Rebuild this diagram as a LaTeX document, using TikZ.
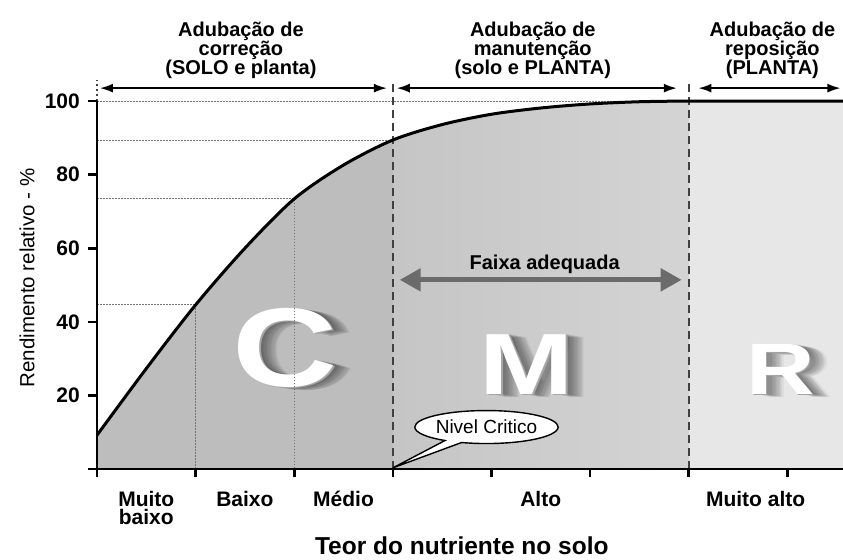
\documentclass[tikz,border=0pt]{standalone}
\usepackage{fontspec}
\setmainfont{Liberation Sans}
\usetikzlibrary{arrows.meta,shapes.callouts}

\definecolor{zonaC}{HTML}{BDBDBD}
\definecolor{zonaMa}{HTML}{C5C5C5}
\definecolor{zonaMb}{HTML}{D4D4D4}
\definecolor{zonaR}{HTML}{E7E7E7}
\definecolor{faixacor}{HTML}{6B6B6B}

\begin{document}
\begin{tikzpicture}[x=98.6pt,y=3.68pt,
	eixo/.style={line width=2.6pt},
	guia/.style={black!55, line width=0.8pt, dash pattern=on 1.5pt off 1.5pt},
	limite/.style={black!75, line width=2.2pt, dash pattern=on 8pt off 5pt},
	faixaseta/.style={faixacor, line width=5pt, {Triangle[length=21pt,width=22pt]}-{Triangle[length=21pt,width=22pt]}},
	chave/.style={line width=1.8pt, {Latex[length=13pt,width=9pt]}-{Latex[length=13pt,width=9pt]}},
	cabec/.style={font=\bfseries\fontsize{20}{19}\selectfont, align=center, anchor=base, inner sep=0pt},
	classe/.style={font=\bfseries\fontsize{21}{18}\selectfont, align=center, anchor=base, inner sep=0pt},
	eixonum/.style={font=\bfseries\fontsize{21}{21}\selectfont, anchor=east, inner sep=0pt},
	letra/.style={font=\bfseries\fontsize{#1}{#1}\selectfont, inner sep=0pt, xscale=1.3},
]
	\useasboundingbox (-0.984,-24.46) rectangle (7.566,127.45);

	% zonas sob a curva
	\begin{scope}
		\clip (0,0) -- plot[smooth] coordinates {(0,9.2) (0.5,27.3) (1,44.6) (1.5,60.0) (2,73.4) (2.5,82.6) (3,89.4) (3.5,93.6) (4,96.4) (4.5,98.1) (5,99.2) (5.5,99.8) (6,100)} -- (7.566,100) -- (7.566,0) -- cycle;
		\fill[zonaC] (0,0) rectangle (3,101);
		\shade[left color=zonaMa, right color=zonaMb] (3,0) rectangle (6,101);
		\fill[zonaR] (6,0) rectangle (7.566,101);
	\end{scope}

	% letras C, M, R
	\foreach \s in {1,...,14} {
		\node[letra=112, text=black, opacity=.045, xshift=\s pt, yshift=-0.25*\s pt] (Csombra\s) at (1.91,32.9) {C};
		\node[letra=87, text=black, opacity=.045, xshift=\s pt, yshift=-0.25*\s pt] (Msombra\s) at (4.36,28.5) {M};
		\node[letra=73, text=black, opacity=.045, xshift=\s pt, yshift=-0.25*\s pt] (Rsombra\s) at (6.93,27.2) {R};
	}
	\node[letra=112, text=black!35, xshift=1.5pt, yshift=-1.5pt] (Cborda) at (1.91,32.9) {C};
	\node[letra=87, text=black!35, xshift=1.5pt, yshift=-1.5pt] (Mborda) at (4.36,28.5) {M};
	\node[letra=73, text=black!35, xshift=1.5pt, yshift=-1.5pt] (Rborda) at (6.93,27.2) {R};
	\node[letra=112, text=white] (C) at (1.91,32.9) {C};
	\node[letra=87, text=white] (M) at (4.36,28.5) {M};
	\node[letra=73, text=white] (R) at (6.93,27.2) {R};

	% linhas guia
	\draw[guia] (0,100) -- (6,100);
	\draw[guia] (0,89.4) -- (3,89.4);
	\draw[guia] (0,73.4) -- (2,73.4) -- (2,0);
	\draw[guia] (0,44.6) -- (1,44.6) -- (1,0);

	\draw[limite] (3,0) -- (3,105.7);
	\draw[limite] (6,0) -- (6,105.7);
	\draw[black!75, line width=2pt, dash pattern=on 2pt off 3pt] (0,100) -- (0,105.7);

	% curva
	\draw[line width=3pt] plot[smooth] coordinates {(0,9.2) (0.5,27.3) (1,44.6) (1.5,60.0) (2,73.4) (2.5,82.6) (3,89.4) (3.5,93.6) (4,96.4) (4.5,98.1) (5,99.2) (5.5,99.8) (6,100)} -- (7.566,100);

	% eixos
	\draw[eixo] (0,100) -- (0,0) -- (7.566,0);
	\foreach \v in {0,20,...,100}
		\draw[eixo] (0,\v) -- ++(-9pt,0);
	\foreach \v in {20,40,...,100}
		\node[eixonum] (n\v) at ([xshift=-17pt]0,\v) {\v};
	\foreach \t in {0,...,7}
		\draw[eixo] (\t,0) -- ++(0,-8pt);

	\node[rotate=90, font=\fontsize{20.5}{20.5}\selectfont, inner sep=0pt] (rend) at (-0.71,51.9) {Rendimento relativo - \%};

	\node[classe] (mb) at (0.5,-15.2) {Muito\\baixo};
	\node[classe] (bx) at (1.5,-10.3) {Baixo};
	\node[classe] (md) at (2.5,-10.3) {Médio};
	\node[classe] (al) at (4.5,-10.3) {Alto};
	\node[classe] (ma) at (6.68,-10.3) {Muito alto};
	\node[font=\bfseries\fontsize{24.5}{24.5}\selectfont, anchor=base, inner sep=0pt] (teor) at (3.70,-23.2) {Teor do nutriente no solo};

	% cabecalhos
	\node[cabec] (hC) at (1.46,107.3) {Adubação de\\correção\\(SOLO e planta)};
	\node[cabec] (hM) at (4.42,107.3) {Adubação de\\manutenção\\(solo e PLANTA)};
	\node[cabec] (hR) at (6.85,107.3) {Adubação de\\reposição\\(PLANTA)};

	\coordinate (c1a) at (0.03,103.5);
	\coordinate (c1b) at (2.94,103.5);
	\coordinate (c2a) at (3.04,103.5);
	\coordinate (c2b) at (5.88,103.5);
	\coordinate (c3a) at (6.10,103.5);
	\coordinate (c3b) at (7.54,103.5);
	\draw[chave] (c1a) -- (c1b);
	\draw[chave] (c2a) -- (c2b);
	\draw[chave] (c3a) -- (c3b);

	% faixa adequada
	\coordinate (fxE) at (3.07,51.4);
	\coordinate (fxD) at (5.93,51.4);
	\draw[faixaseta] (fxE) -- (fxD);
	\node[font=\bfseries\fontsize{20}{20}\selectfont, anchor=base, inner sep=0pt] (fx) at (4.54,54.3) {Faixa adequada};

	% nivel critico
	\coordinate (nc) at (3,0.3);
	\node[ellipse callout, draw, fill=white, line width=1.4pt, callout absolute pointer={(nc)}, minimum width=138pt, minimum height=33pt, inner sep=0pt, font=\fontsize{19}{19}\selectfont] (critico) at (3.95,11.4) {Nivel Critico};

\end{tikzpicture}
\end{document}
